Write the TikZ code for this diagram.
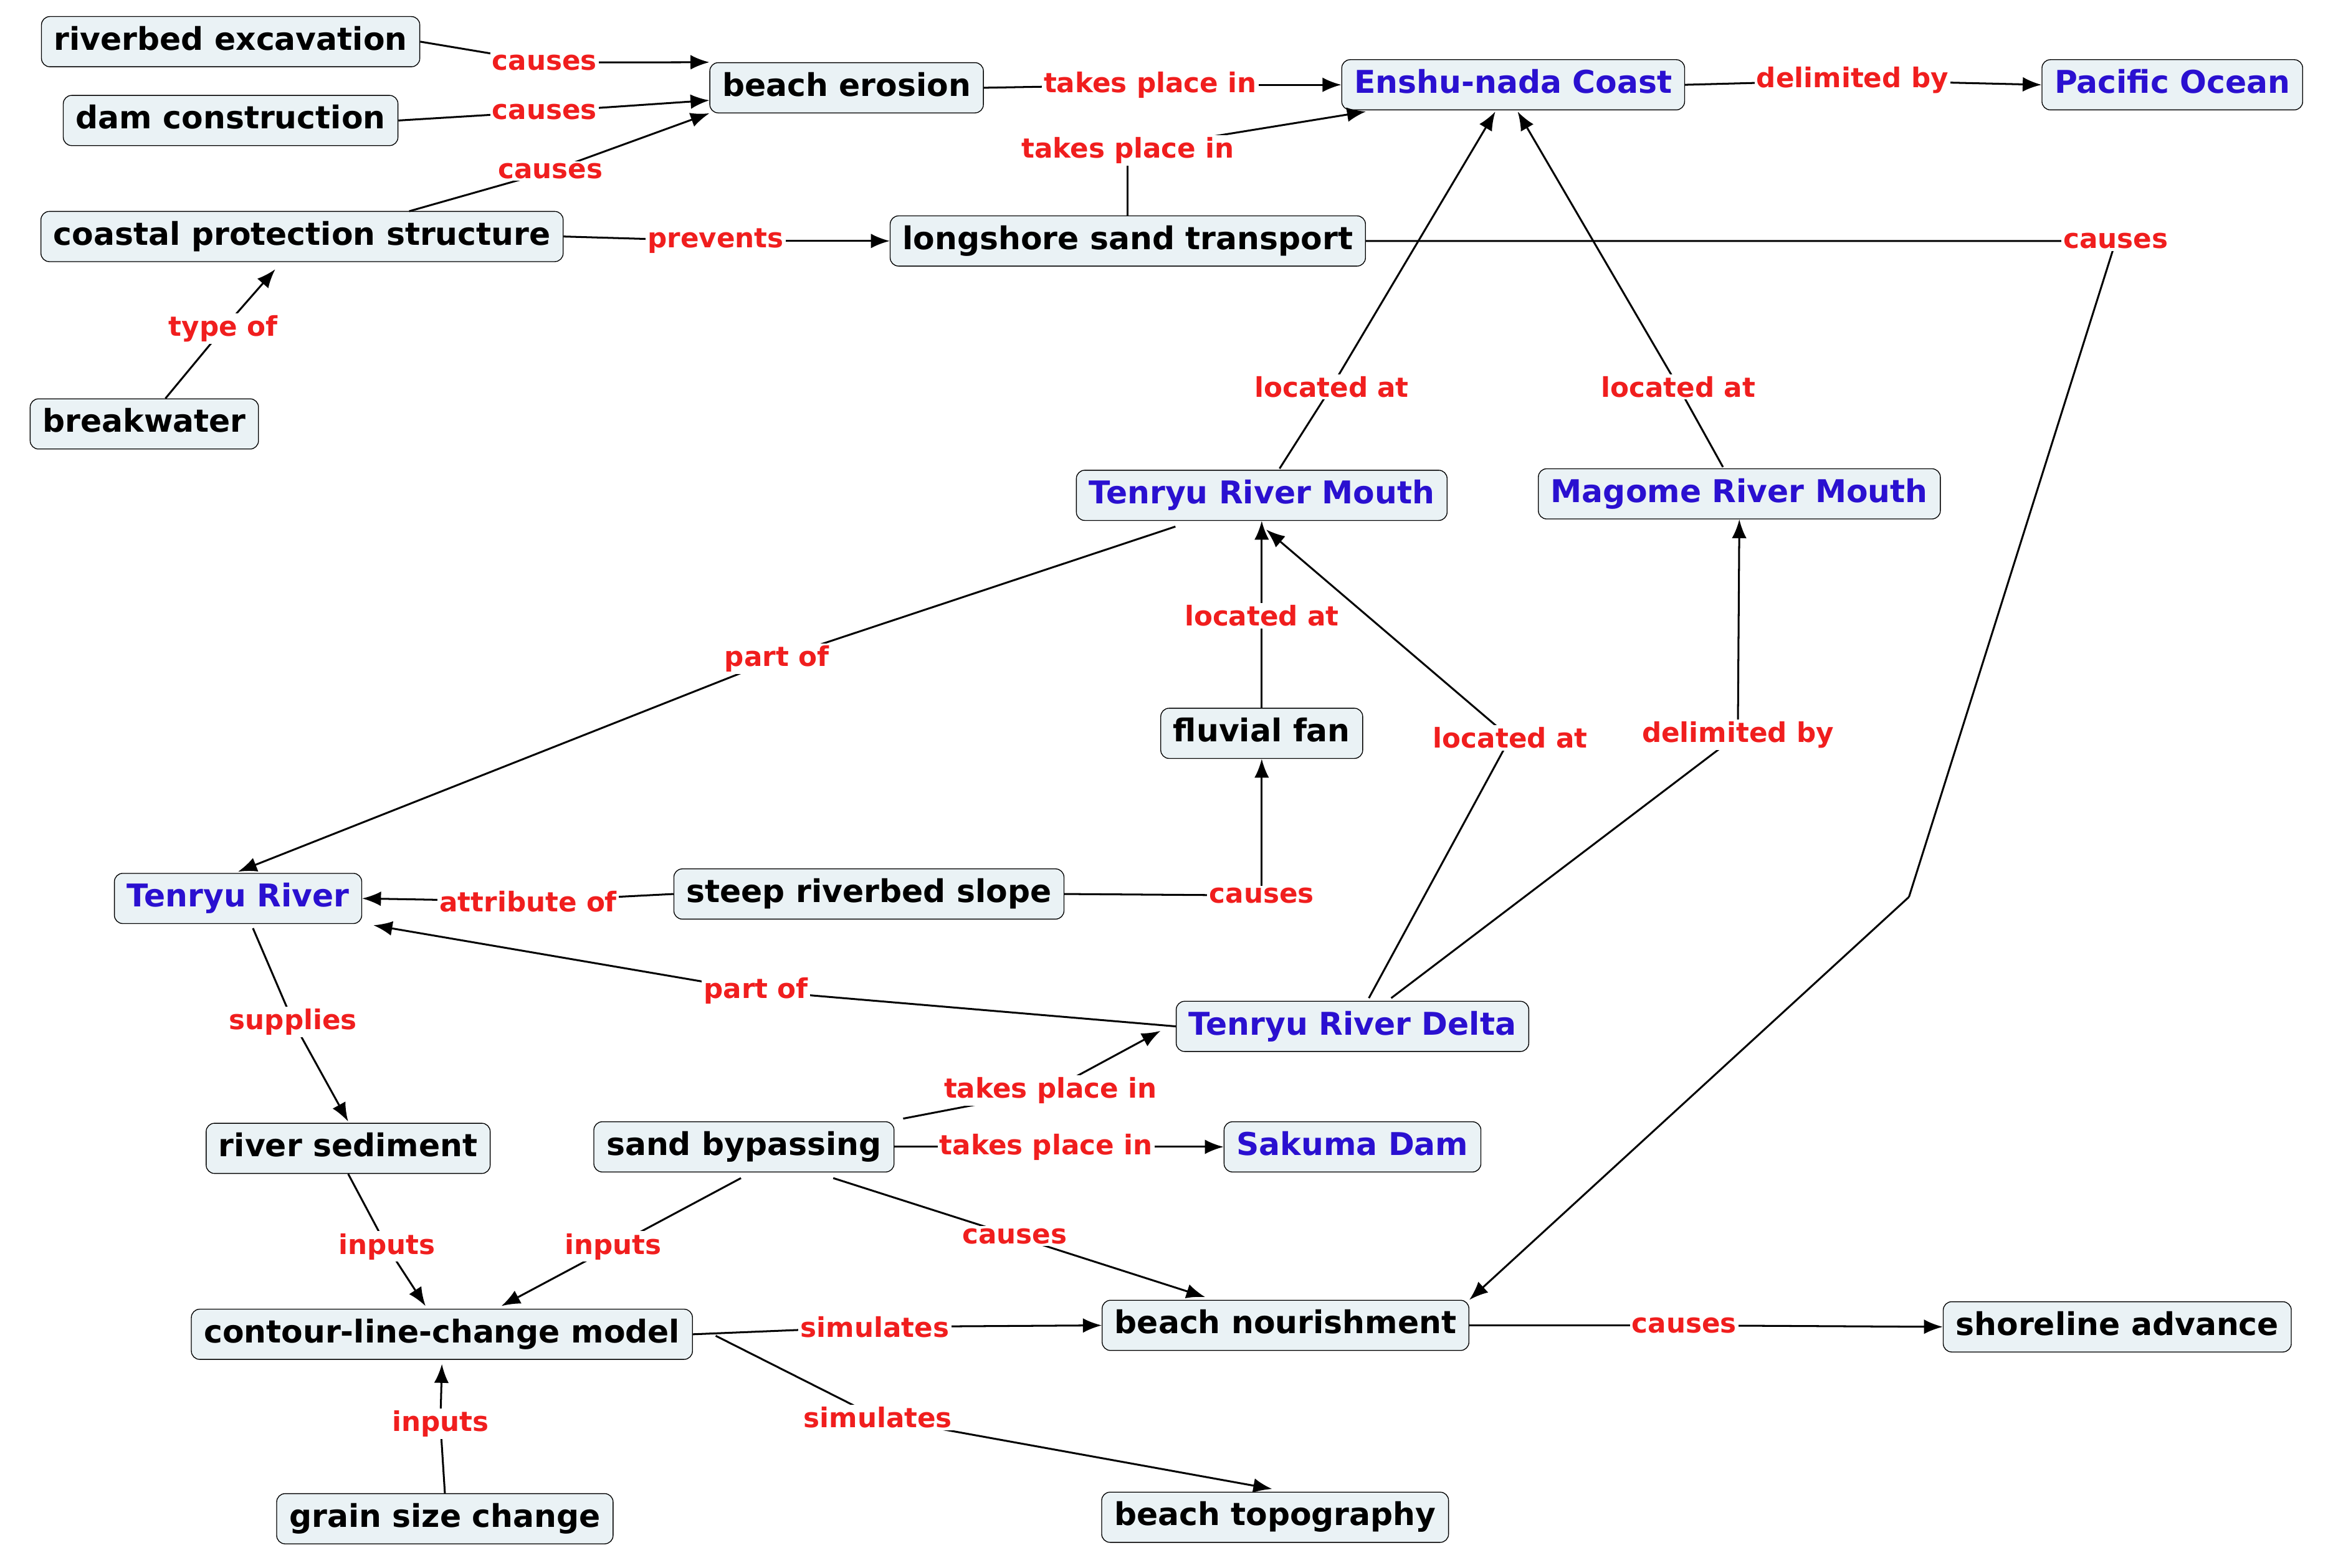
\documentclass[tikz,border=0pt]{standalone}
\usepackage{fontspec}
\setmainfont{DejaVu Sans}
\usetikzlibrary{arrows.meta}
\definecolor{nfill}{HTML}{EAF2F5}
\definecolor{nblue}{HTML}{2A10D0}
\definecolor{lred}{HTML}{F01E1E}
\begin{document}
\begin{tikzpicture}[x=0.025cm,y=-0.025cm,
  n/.style={draw=black,fill=nfill,rounded corners=4pt,inner xsep=6pt,inner ysep=5pt,font=\fontsize{15}{18}\selectfont\bfseries,text height=11pt,text depth=3pt},
  b/.style={n,text=nblue},
  l/.style={fill=white,inner sep=1pt,text=lred,font=\fontsize{13}{15}\selectfont\bfseries},
  e/.style={draw=black,line width=0.9pt,-{Latex[length=9pt,width=7pt]}},
  c/.style={draw=black,line width=0.9pt}]
\useasboundingbox (0,0) rectangle (1568,1054);
\node[n] (re) at (155,28) {riverbed excavation};
\node[n] (dc) at (155,81) {dam construction};
\node[n] (be) at (569,59) {beach erosion};
\node[b] (en) at (1017,57) {Enshu-nada Coast};
\node[b] (po) at (1460,57) {Pacific Ocean};
\node[n] (cp) at (203,159) {coastal protection structure};
\node[n] (ls) at (758,162) {longshore sand transport};
\node[n] (bw) at (97,285) {breakwater};
\node[b] (tm) at (848,333) {Tenryu River Mouth};
\node[b] (mm) at (1169,332) {Magome River Mouth};
\node[n] (ff) at (848,493) {fluvial fan};
\node[b] (tr) at (160,604) {Tenryu River};
\node[n] (ss) at (584,601) {steep riverbed slope};
\node[b] (td) at (909,690) {Tenryu River Delta};
\node[n] (rs) at (234,772) {river sediment};
\node[n] (sb) at (500,771) {sand bypassing};
\node[b] (sd) at (909,771) {Sakuma Dam};
\node[n] (cm) at (297,897) {contour-line-change model};
\node[n] (bn) at (864,891) {beach nourishment};
\node[n] (sa) at (1423,892) {shoreline advance};
\node[n] (gs) at (299,1021) {grain size change};
\node[n] (bt) at (857,1020) {beach topography};
% label coordinates
\coordinate (l1) at (366,42);
\coordinate (l2) at (366,75);
\coordinate (l3) at (370,115);
\coordinate (l4) at (773,57);
\coordinate (l5) at (1245,54);
\coordinate (l6) at (758,101);
\coordinate (l7) at (481,162);
\coordinate (l8) at (150,221);
\coordinate (l9) at (1422,162);
\coordinate (l9b) at (1283,603);
\coordinate (l10) at (895,260);
\coordinate (l11) at (1128,260);
\coordinate (l12) at (522,443);
\coordinate (l13) at (848,414);
\coordinate (l14) at (1015,496);
\coordinate (l15) at (1168,494);
\coordinate (l16) at (355,606);
\coordinate (l17) at (848,602);
\coordinate (l18) at (508,666);
\coordinate (l19) at (197,687);
\coordinate (l20) at (706,733);
\coordinate (l21) at (703,771);
\coordinate (l22) at (412,838);
\coordinate (l23) at (260,838);
\coordinate (l24) at (682,831);
\coordinate (l25) at (588,892);
\coordinate (l26) at (1132,891);
\coordinate (l27) at (296,957);
\coordinate (l28) at (590,953);
% edges
\draw[c] (re.east) -- (l1); \draw[e] (l1) -- (be.north west);
\draw[c] (dc.east) -- (l2); \draw[e] (l2) -- ([yshift=-6pt]be.west);
\draw[c] (275,142) -- (l3); \draw[e] (l3) -- (be.south west);
\draw[c] (be.east) -- (l4); \draw[e] (l4) -- (en.west);
\draw[c] (en.east) -- (l5); \draw[e] (l5) -- (po.west);
\draw[c] (ls.north) -- (l6); \draw[e] (l6) -- (918,75);
\draw[c] (cp.east) -- (l7); \draw[e] (l7) -- (ls.west);
\draw[c] (bw) -- (l8); \draw[e] (l8) -- (185,181);
\draw[c] (ls.east) -- (l9) -- (l9b); \draw[e] (l9b) -- (bn.north east);
\draw[c] (860,315) -- (l10); \draw[e] (l10) -- (1005,75);
\draw[c] (1158,314) -- (l11); \draw[e] (l11) -- (1020,75);
\draw[c] (790,354) -- (l12); \draw[e] (l12) -- (160,586);
\draw[c] (ff) -- (l13); \draw[e] (l13) -- (tm.south);
\draw[c] (920,671) -- (l14); \draw[e] (l14) -- (851,356);
\draw[c] (935,671) -- (l15); \draw[e] (l15) -- (mm.south);
\draw[c] (ss.west) -- (l16); \draw[e] (l16) -- (tr.east);
\draw[c] (ss.east) -- (l17); \draw[e] (l17) -- (ff.south);
\draw[c] (td.west) -- (l18); \draw[e] (l18) -- (251,622);
\draw[c] (170,624) -- (l19); \draw[e] (l19) -- (234,754);
\draw[c] (607,752) -- (l20); \draw[e] (l20) -- (780,693);
\draw[c] (sb.east) -- (l21); \draw[e] (l21) -- (sd.west);
\draw[c] (498,792) -- (l22); \draw[e] (l22) -- (337,878);
\draw[c] (rs.south) -- (l23); \draw[e] (l23) -- (286,878);
\draw[c] (560,792) -- (l24); \draw[e] (l24) -- (810,872);
\draw[c] (cm.east) -- (l25); \draw[e] (l25) -- (bn.west);
\draw[c] (bn.east) -- (l26); \draw[e] (l26) -- (sa.west);
\draw[c] (gs.north) -- (l27); \draw[e] (l27) -- (297,917);
\draw[c] (481,898) -- (l28); \draw[e] (l28) -- (855,1001);
% labels
\node[l] at (l1) {causes};
\node[l] at (l2) {causes};
\node[l] at (l3) {causes};
\node[l] at (l4) {takes place in};
\node[l] at (l5) {delimited by};
\node[l] at (l6) {takes place in};
\node[l] at (l7) {prevents};
\node[l] at (l8) {type of};
\node[l] at (l9) {causes};
\node[l] at (l10) {located at};
\node[l] at (l11) {located at};
\node[l] at (l12) {part of};
\node[l] at (l13) {located at};
\node[l] at (l14) {located at};
\node[l] at (l15) {delimited by};
\node[l] at (l16) {attribute of};
\node[l] at (l17) {causes};
\node[l] at (l18) {part of};
\node[l] at (l19) {supplies};
\node[l] at (l20) {takes place in};
\node[l] at (l21) {takes place in};
\node[l] at (l22) {inputs};
\node[l] at (l23) {inputs};
\node[l] at (l24) {causes};
\node[l] at (l25) {simulates};
\node[l] at (l26) {causes};
\node[l] at (l27) {inputs};
\node[l] at (l28) {simulates};
\end{tikzpicture}
\end{document}
